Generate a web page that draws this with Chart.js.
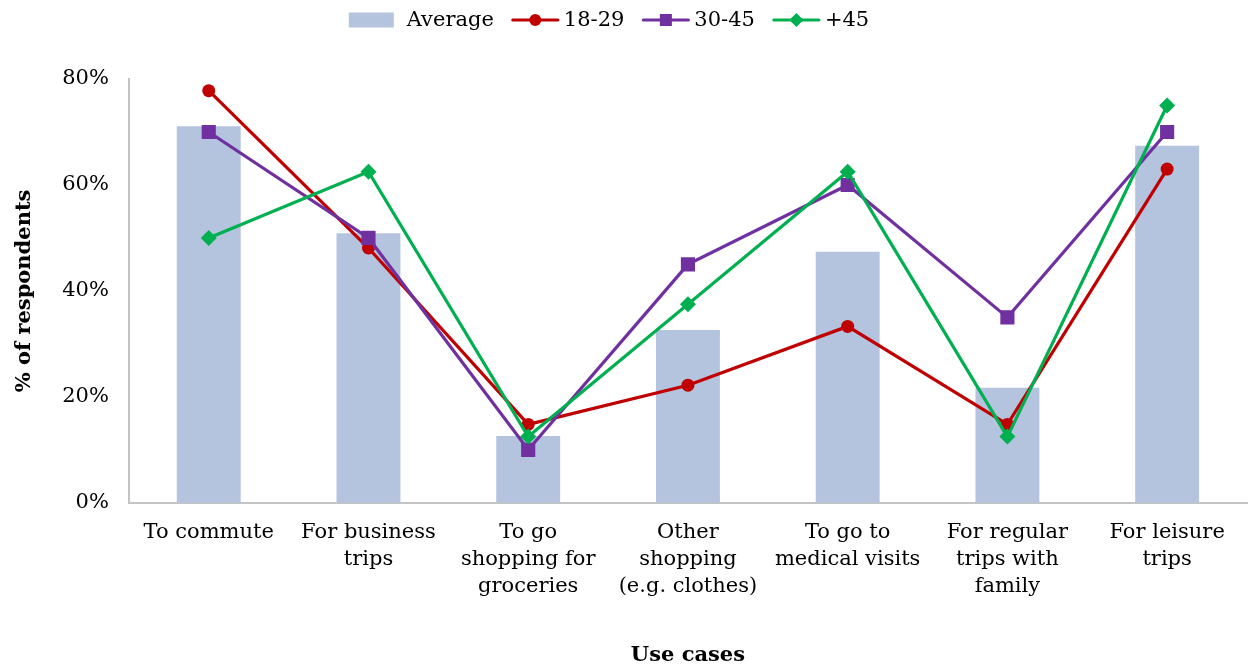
<!DOCTYPE html>
<html>
<head>
<meta charset="utf-8">
<script src="https://cdn.jsdelivr.net/npm/chart.js@4/dist/chart.umd.min.js"></script>
<style>
  html, body { margin: 0; padding: 0; background: #fff; }
  #wrap { width: 1257px; height: 669px; position: relative; }
</style>
</head>
<body>
<div id="wrap"><canvas id="chart"></canvas></div>
<script>
// Use cases (multi-line category labels)
const categories = [
  'To commute',
  ['For business', 'trips'],
  ['To go', 'shopping for', 'groceries'],
  ['Other', 'shopping', '(e.g. clothes)'],
  ['To go to', 'medical visits'],
  ['For regular', 'trips with', 'family'],
  ['For leisure', 'trips']
];

// Share of respondents (%) per use case
const average   = [71.1, 50.9, 12.6, 32.6, 47.4, 21.7, 67.4];
const age18to29 = [77.8, 48.1, 14.8, 22.2, 33.3, 14.8, 63.0];
const age30to45 = [70.0, 50.0, 10.0, 45.0, 60.0, 35.0, 70.0];
const age45plus = [50.0, 62.5, 12.5, 37.5, 62.5, 12.5, 75.0];

const seriesNames = ['Average', '18-29', '30-45', '+45'];
const yTicks = [0, 20, 40, 60, 80];

const FONT = 'DejaVu Serif';
const SIZE = 21;
const BAR = '#b4c3de';
const RED = '#c00000';
const PURPLE = '#7030a0';
const GREEN = '#00b050';
const AXIS = '#c4c4c4';

function lineSet(label, data, color, style, radius, order) {
  return {
    type: 'line',
    label: label,
    data: data,
    borderColor: color,
    backgroundColor: color,
    borderWidth: 3.2,
    pointStyle: style,
    pointRadius: radius,
    pointHoverRadius: radius,
    pointBorderWidth: 0,
    tension: 0,
    order: order
  };
}

// Legend row across the top: a box for the bars, a line with its marker for each series
const seriesLegend = {
  id: 'seriesLegend',
  afterDraw(chart) {
    const ctx = chart.ctx;
    const y = 20;
    const gap = 18;
    ctx.save();
    ctx.font = SIZE + 'px "' + FONT + '"';
    ctx.textBaseline = 'middle';
    ctx.textAlign = 'left';
    const items = chart.data.datasets.map((ds, i) => ({
      ds: ds,
      swatch: i === 0 ? 45 : 47,
      textGap: i === 0 ? 13 : 5,
      textW: ctx.measureText(ds.label).width
    }));
    let total = 0;
    items.forEach((it, i) => {
      total += it.swatch + it.textGap + it.textW + (i ? gap : 0);
    });
    let x = 609 - total / 2;
    items.forEach((it) => {
      const ds = it.ds;
      if (ds.type === 'bar') {
        ctx.fillStyle = ds.backgroundColor;
        ctx.fillRect(x, y - 7.5, it.swatch, 15);
      } else {
        ctx.strokeStyle = ds.borderColor;
        ctx.lineWidth = 3.2;
        ctx.lineCap = 'round';
        ctx.beginPath();
        ctx.moveTo(x + 1, y);
        ctx.lineTo(x + it.swatch - 1, y);
        ctx.stroke();
        ctx.fillStyle = ds.backgroundColor;
        const cx = x + it.swatch / 2;
        ctx.beginPath();
        if (ds.pointStyle === 'circle') {
          ctx.arc(cx, y, 6, 0, Math.PI * 2);
        } else if (ds.pointStyle === 'rect') {
          ctx.rect(cx - 6, y - 6, 12, 12);
        } else {
          ctx.moveTo(cx, y - 7); ctx.lineTo(cx + 7, y); ctx.lineTo(cx, y + 7); ctx.lineTo(cx - 7, y);
          ctx.closePath();
        }
        ctx.fill();
      }
      ctx.fillStyle = '#000';
      ctx.fillText(ds.label, x + it.swatch + it.textGap, y + 1);
      x += it.swatch + it.textGap + it.textW + gap;
    });
    ctx.restore();
  }
};

new Chart(document.getElementById('chart'), {
  data: {
    labels: categories,
    datasets: [
      {
        type: 'bar',
        label: seriesNames[0],
        data: average,
        backgroundColor: BAR,
        borderWidth: 0,
        barPercentage: 0.4,
        categoryPercentage: 1.0,
        order: 4
      },
      lineSet(seriesNames[1], age18to29, RED, 'circle', 6.5, 3),
      lineSet(seriesNames[2], age30to45, PURPLE, 'rect', 10, 2),
      lineSet(seriesNames[3], age45plus, GREEN, 'rectRot', 8, 1)
    ]
  },
  plugins: [seriesLegend],
  options: {
    responsive: true,
    maintainAspectRatio: false,
    animation: false,
    layout: { padding: { left: 12, right: 2, top: 79, bottom: 1 } },
    plugins: {
      tooltip: { enabled: false },
      legend: { display: false }
    },
    scales: {
      x: {
        offset: true,
        grid: { display: false, drawTicks: false },
        border: { display: true, color: AXIS, width: 2 },
        ticks: {
          color: '#000',
          padding: 16,
          maxRotation: 0,
          autoSkip: false,
          font: { family: FONT, size: SIZE, lineHeight: 1.2857 }
        },
        title: {
          display: true,
          text: 'Use cases',
          color: '#000',
          padding: { top: 27, bottom: 0 },
          font: { family: FONT, size: SIZE, weight: 'bold' }
        }
      },
      y: {
        min: 0,
        max: 80,
        afterBuildTicks(scale) {
          scale.ticks = yTicks.map(v => ({ value: v }));
        },
        grid: { display: false, drawTicks: false },
        border: { display: true, color: AXIS, width: 2 },
        ticks: {
          color: '#000',
          padding: 20,
          font: { family: FONT, size: SIZE },
          callback: v => v + '%'
        },
        title: {
          display: true,
          text: '% of respondents',
          color: '#000',
          padding: { top: 0, bottom: 5 },
          font: { family: FONT, size: SIZE, weight: 'bold' }
        }
      }
    }
  }
});
</script>
</body>
</html>
